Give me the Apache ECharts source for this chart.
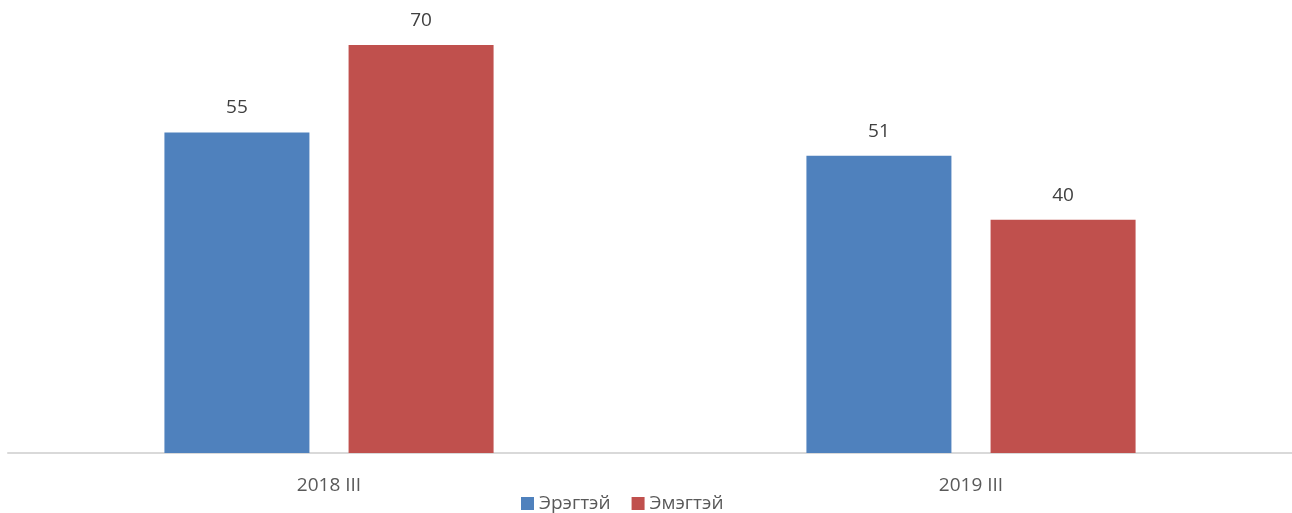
<!DOCTYPE html>
<html>
<head>
<meta charset="utf-8">
<script src="https://cdn.jsdelivr.net/npm/echarts@6/dist/echarts.min.js"></script>
<style>html,body{margin:0;padding:0;background:#fff}#c{width:1292px;height:513px}</style>
</head>
<body>
<div id="c"></div>
<script>
var categories = ['2018 III', '2019 III'];
var seriesNames = ['Эрэгтэй', 'Эмэгтэй'];
var male = [55, 51];
var female = [70, 40];

var font = '"Open Sans", "Noto Sans", sans-serif';
var chart = echarts.init(document.getElementById('c'));
chart.setOption({
  animation: false,
  textStyle: { fontFamily: font },
  grid: { left: 8, width: 1286, top: 45, bottom: 60, containLabel: false },
  legend: {
    data: seriesNames,
    left: 521, top: 494,
    padding: 0,
    itemWidth: 13, itemHeight: 13, itemGap: 21,
    icon: 'rect',
    textStyle: { fontSize: 19, lineHeight: 17, color: '#595959', fontFamily: font }
  },
  xAxis: {
    type: 'category',
    data: categories,
    axisLine: { show: true, lineStyle: { color: '#d9d9d9', width: 2 } },
    axisTick: { show: false },
    axisLabel: { fontSize: 19, color: '#595959', margin: 23, fontFamily: font }
  },
  yAxis: {
    type: 'value', min: 0, max: 70,
    show: false, splitLine: { show: false }
  },
  series: [
    {
      name: seriesNames[0], type: 'bar', data: male,
      barWidth: 145, barGap: '27%',
      itemStyle: { color: '#4f81bd' },
      label: { show: true, position: 'top', distance: 15, fontSize: 19, color: '#404040', fontFamily: font }
    },
    {
      name: seriesNames[1], type: 'bar', data: female,
      barWidth: 145,
      itemStyle: { color: '#c0504d' },
      label: { show: true, position: 'top', distance: 15, fontSize: 19, color: '#404040', fontFamily: font }
    }
  ]
});
</script>
</body>
</html>
